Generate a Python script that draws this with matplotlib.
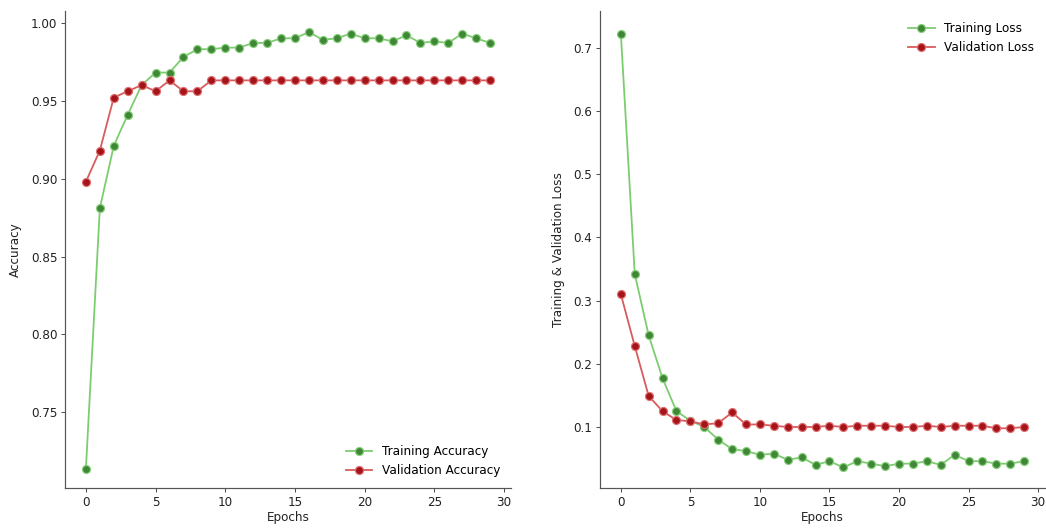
import matplotlib
matplotlib.use("Agg")
import matplotlib.pyplot as plt

epochs = list(range(30))
train_acc = [0.714, 0.881, 0.921, 0.941, 0.960, 0.968, 0.968, 0.978, 0.983, 0.983,
             0.984, 0.984, 0.987, 0.987, 0.990, 0.990, 0.994, 0.989, 0.990, 0.993,
             0.990, 0.990, 0.988, 0.992, 0.987, 0.988, 0.987, 0.993, 0.990, 0.987]
val_acc = [0.898, 0.918, 0.952, 0.956, 0.960, 0.956, 0.963, 0.956, 0.956, 0.963,
           0.963, 0.963, 0.963, 0.963, 0.963, 0.963, 0.963, 0.963, 0.963, 0.963,
           0.963, 0.963, 0.963, 0.963, 0.963, 0.963, 0.963, 0.963, 0.963, 0.963]
train_loss = [0.722, 0.342, 0.245, 0.177, 0.125, 0.110, 0.100, 0.080, 0.065, 0.062,
              0.056, 0.058, 0.048, 0.052, 0.040, 0.046, 0.036, 0.046, 0.042, 0.038,
              0.042, 0.042, 0.046, 0.040, 0.056, 0.046, 0.046, 0.042, 0.042, 0.046]
val_loss = [0.310, 0.228, 0.149, 0.125, 0.111, 0.109, 0.104, 0.106, 0.123, 0.104,
            0.104, 0.102, 0.100, 0.100, 0.100, 0.102, 0.100, 0.102, 0.102, 0.102,
            0.100, 0.100, 0.102, 0.100, 0.102, 0.102, 0.102, 0.098, 0.098, 0.100]

W, H = 1046, 529
fig = plt.figure(figsize=(W / 72, H / 72), dpi=72)
plt.rcParams['font.family'] = ['DejaVu Sans']

FS = 12
g_line, g_face, g_edge = '#7ccc70', '#3f8636', '#86d07a'
r_line, r_face, r_edge = '#d95b5b', '#a4141a', '#e07070'

def style(ax):
    for s in ['top', 'right']:
        ax.spines[s].set_visible(False)
    for s in ['left', 'bottom']:
        ax.spines[s].set_color('#555555')
        ax.spines[s].set_linewidth(1.2)
    ax.tick_params(labelsize=FS, colors='#222222', length=4)
    ax.set_xlim(-1.5, 30.5)
    ax.set_xticks([0, 5, 10, 15, 20, 25, 30])

def draw(ax, y, line, face, edge, label):
    ax.plot(epochs, y, color=line, lw=1.8, marker='o', markersize=8,
            markerfacecolor=face, markeredgecolor=edge, markeredgewidth=1.2,
            label=label)

ax1 = fig.add_axes([65 / W, 1 - 488 / H, (511 - 65) / W, (488 - 11) / H])
draw(ax1, train_acc, g_line, g_face, g_edge, 'Training Accuracy')
draw(ax1, val_acc, r_line, r_face, r_edge, 'Validation Accuracy')
style(ax1)
ax1.set_ylim(0.7015, 1.0075)
ax1.set_yticks([0.75, 0.80, 0.85, 0.90, 0.95, 1.00])
ax1.set_xlabel('Epochs', fontsize=FS, color='#222222', labelpad=3)
ax1.set_ylabel('Accuracy', fontsize=FS, color='#222222', labelpad=9)
ax1.legend(loc='lower right', frameon=False, fontsize=FS, bbox_to_anchor=(1.0, 0.0),
           handlelength=2.2)

ax2 = fig.add_axes([600 / W, 1 - 488 / H, (1045 - 600) / W, (488 - 11) / H])
draw(ax2, train_loss, g_line, g_face, g_edge, 'Training Loss')
draw(ax2, val_loss, r_line, r_face, r_edge, 'Validation Loss')
style(ax2)
ax2.set_ylim(0.1 - (488 - 427) / 632, 0.1 + (427 - 11) / 632)
ax2.set_yticks([0.1, 0.2, 0.3, 0.4, 0.5, 0.6, 0.7])
ax2.set_xlabel('Epochs', fontsize=FS, color='#222222', labelpad=3)
ax2.set_ylabel('Training & Validation Loss', fontsize=FS, color='#222222', labelpad=9)
ax2.legend(loc='upper right', frameon=False, fontsize=FS, bbox_to_anchor=(1.0, 1.0),
           handlelength=2.2)

fig.savefig('out.png', dpi=72)
